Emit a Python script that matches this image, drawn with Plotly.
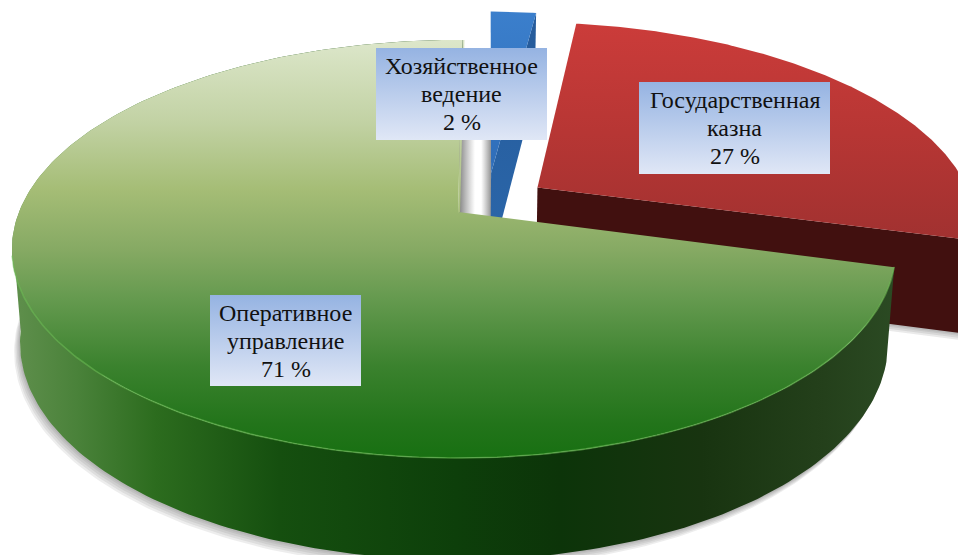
import numpy as np
import plotly.graph_objects as go

# --- chart data -----------------------------------------------------------
categories = ["Хозяйственное<br>ведение", "Государственная<br>казна", "Оперативное<br>управление"]
values = [2, 27, 71]
value_labels = ["2 %", "27 %", "71 %"]
explode_x = [0.078, 0.185, 0.0]
explode_y = [0.20, 0.123, 0.0]

# --- projection of the 3-D pie --------------------------------------------
W, H = 958, 555
CX, CY = 458, 212
KX, KY, P = 439, 202.5, 0.177
KX_GREEN_RIGHT = 431
D0, D1, LEAN = 92, 10, 0.982
ROTATION = -0.7


def project(X, Y, kx=KX):
    w = 1 + P * Y
    return CX + kx * X / w, CY - KY * Y / w


def depth(Y):
    return D0 - D1 * Y


def lower(X, Y, kx=KX):
    px, py = project(X, Y, kx)
    return CX + (px - CX) * LEAN, py + depth(Y)


def arc(a0, a1, n=240):
    return np.radians(np.linspace(a0, a1, n))


fig = go.Figure()


def poly(x, y, stops=None, kind="vertical", start=None, stop=None, color=None):
    kw = dict(x=np.asarray(x), y=np.asarray(y), mode="lines", fill="toself", hoverinfo="skip",
              showlegend=False, line=dict(width=0, color="rgba(0,0,0,0)"))
    if stops:
        kw["fillgradient"] = dict(type=kind, colorscale=stops, start=start, stop=stop)
    else:
        kw["fillcolor"] = color
    fig.add_trace(go.Scatter(**kw))


# angular extents, clockwise from the top
cum = np.cumsum([0] + values) / sum(values) * 360
ang = [(90 + ROTATION - cum[i], 90 + ROTATION - cum[i + 1]) for i in range(len(values))]

# ---- red slice -----------------------------------------------------------
a0, a1 = ang[1]
ex, ey = explode_x[1], explode_y[1]
t = arc(a0, a1)
Xr, Yr = ex + np.cos(t), ey + np.sin(t)
ax, ay = project(ex, ey)
px, py = project(Xr, Yr)
side_X = np.array([ex, Xr[-1]])
side_Y = np.array([ey, Yr[-1]])
tx, ty = project(side_X, side_Y)
bx, by = lower(side_X, side_Y)
for g in (7, 5, 3, 1.5):
    poly(np.r_[bx, bx[::-1]], np.r_[by + g, by[::-1] - 2], color="rgba(90,90,90,0.13)")
poly(np.r_[tx, bx[::-1]], np.r_[ty, by[::-1]], color="#41100f")
poly(np.r_[ax, px], np.r_[ay, py],
     stops=[[0, "#cc3c3a"], [0.5, "#b73634"], [1, "#a03130"]], start=20, stop=245)

# ---- blue slice ----------------------------------------------------------
a0, a1 = ang[0]
ex, ey = explode_x[0], explode_y[0]
t = arc(a0, a1, 40)
Xb, Yb = ex + np.cos(t), ey + np.sin(t)
ax, ay = project(ex, ey)
px, py = project(Xb, Yb)
poly([ax - 10, ax, ax, ax - 10], [110, 110, 225, 225],
     stops=[[0, "rgba(130,130,130,0)"], [1, "rgba(110,110,110,0.75)"]], kind="horizontal",
     start=ax - 10, stop=ax)
sx, sy = project(np.array([ex, Xb[-1]]), np.array([ey, Yb[-1]]))
lx, ly = lower(np.array([ex, Xb[-1]]), np.array([ey, Yb[-1]]))
poly(np.r_[sx, lx[::-1]], np.r_[sy, ly[::-1]],
     stops=[[0, "#265c9c"], [1, "#2a65a8"]], start=40, stop=225)
poly(np.r_[ax, ax, lx[0], ax], np.r_[ay, ly[0], ly[0], ay], color="#265c9c")
poly(np.r_[ax, px], np.r_[ay, py],
     stops=[[0, "#3b7fcc"], [1, "#2f6db8"]], start=10, stop=175)

# ---- green slice ---------------------------------------------------------
a0, a1 = ang[2]
ex, ey = explode_x[2], explode_y[2]
t = arc(a0, a1)
Xg, Yg = ex + np.cos(t), ey + np.sin(t)
ax, ay = project(ex, ey)
kx_g = np.where(Xg > 0, KX_GREEN_RIGHT, KX)
px, py = project(Xg, Yg, kx_g)
lx, ly = lower(Xg, Yg, kx_g)
top_x, top_y = px[-1], py[-1]
poly([ax + 1, ax + 17, ax + 17, ax + 1], [110, 110, 225, 225],
     stops=[[0, "rgba(110,110,110,0.8)"], [1, "rgba(130,130,130,0)"]], kind="horizontal",
     start=ax + 2, stop=ax + 17)
poly([ax, top_x, top_x + 2, ax + 2], [ay, top_y, top_y, ay],
     stops=[[0, "#dbe5c9"], [1, "#a9bf7d"]], start=40, stop=212)
for g in (9, 7, 5, 3, 1.5):
    poly(np.r_[lx - g * 0.65, lx[::-1]], np.r_[ly + g, ly[::-1] - 2], color="rgba(90,90,90,0.11)")
wall_stops = [[0, "#5f8f4c"], [0.07, "#4a823a"], [0.16, "#2c6c1e"], [0.3, "#154f0f"],
              [0.5, "#0d3f0a"], [0.62, "#0c3409"], [0.78, "#183410"], [0.92, "#24401b"], [1, "#2b4a23"]]
poly(np.r_[px, lx[::-1]], np.r_[py, ly[::-1]], stops=wall_stops, kind="horizontal", start=15, stop=895)
# left silhouette of the wall, from the widest point of the rim to the widest point of the base
sil_a = np.radians([187.0, 187.0, 225.0])
sil_X, sil_Y = np.cos(sil_a), np.sin(sil_a)
rx, ry = project(sil_X, sil_Y)
bx2, by2 = lower(sil_X, sil_Y)
poly([rx[0], bx2[1], rx[2]], [ry[0], by2[1], ry[2]], stops=wall_stops, kind="horizontal", start=15, stop=895)
poly(np.r_[ax, px], np.r_[ay, py],
     stops=[[0, "#dde7cb"], [0.2, "#c2d2a4"], [0.36, "#a5bd76"], [0.5, "#87aa64"], [0.62, "#659a4f"],
            [0.78, "#3b822e"], [0.92, "#22741a"], [1, "#187012"]], start=38, stop=458)
t2 = np.radians(np.linspace(192, 345, 200))
fx, fy = project(np.cos(t2), np.sin(t2), np.where(np.cos(t2) > 0, KX_GREEN_RIGHT, KX))
fig.add_trace(go.Scatter(x=fx, y=fy, mode="lines", hoverinfo="skip", showlegend=False,
                         line=dict(width=1.6, color="rgba(110,190,85,0.55)")))

# ---- data labels ---------------------------------------------------------
boxes = [(376, 547, 48, 140), (639, 830, 82, 174), (210, 361, 295, 386)]
LINE_PITCH = 28
for (x0, x1, y0, y1), cat, val in zip(boxes, categories, value_labels):
    poly([x0, x1, x1, x0], [y0, y0, y1, y1],
         stops=[[0, "#95b3e2"], [1, "#e0e7f6"]], start=y0, stop=y1)
    lines = cat.split("<br>") + [val]
    for i, text in enumerate(lines):
        fig.add_annotation(x=(x0 + x1) / 2, y=(y0 + y1) / 2 + (i - 1) * LINE_PITCH, xref="x", yref="y",
                           text=text, showarrow=False, align="center", yanchor="middle", xanchor="center",
                           font=dict(family="Liberation Serif", size=24, color="#111111"))

fig.update_xaxes(range=[0, W], visible=False, fixedrange=True)
fig.update_yaxes(range=[H, 0], visible=False, fixedrange=True)
fig.update_layout(width=W, height=H, margin=dict(l=0, r=0, t=0, b=0), showlegend=False,
                  paper_bgcolor="white", plot_bgcolor="white")
fig.write_html("out.html", config={"displayModeBar": False},
               post_script="document.body.style.margin='0';document.body.style.overflow='hidden';")
